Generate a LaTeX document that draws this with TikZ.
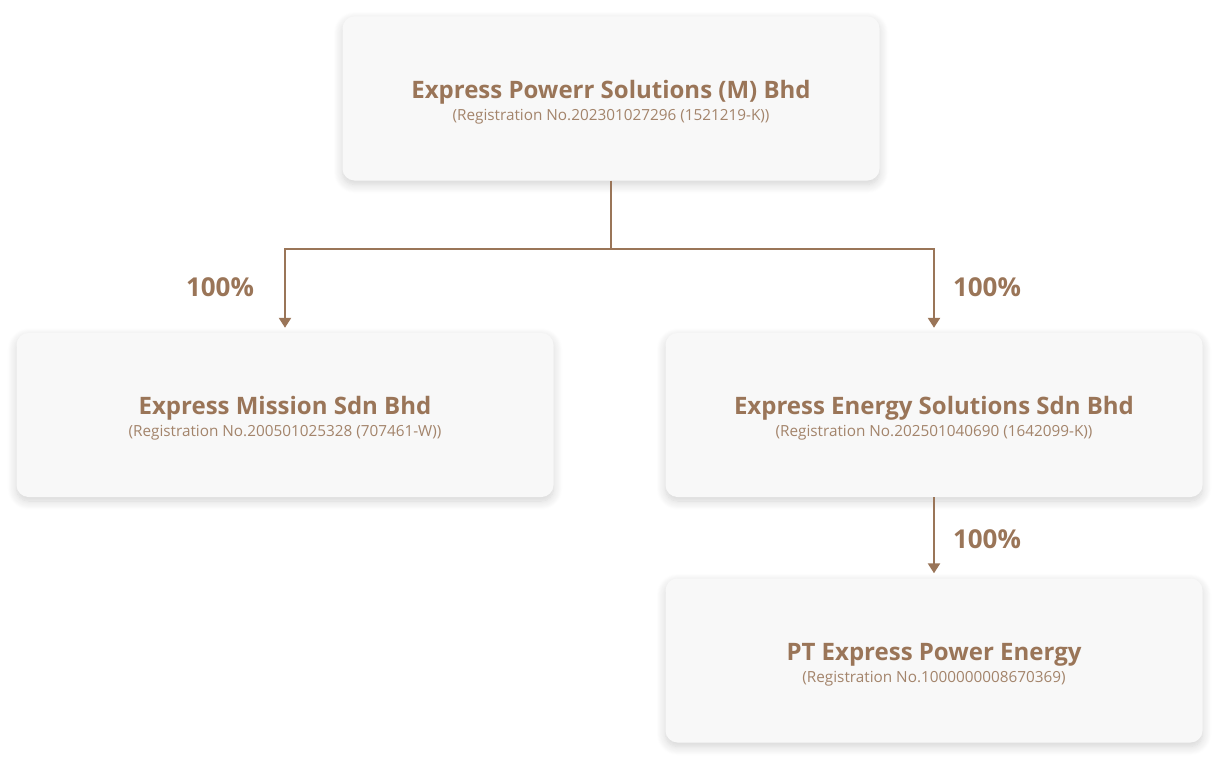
\documentclass[tikz,border=0pt]{standalone}
\usepackage{fontspec}
\setmainfont{Open Sans}
\usetikzlibrary{arrows.meta,shadows.blur}
\definecolor{brown1}{HTML}{9A7558}
\definecolor{brown2}{HTML}{A3846B}
\definecolor{boxfill}{HTML}{F8F8F8}
\tikzset{
  orgbox/.style={fill=boxfill, rounded corners=12pt, minimum width=537pt, minimum height=164pt,
    align=center, inner sep=0pt, text=brown1,
    blur shadow={shadow xshift=0pt, shadow yshift=-4pt, shadow blur radius=9pt, shadow blur steps=12, shadow opacity=18}},
  link/.style={draw=brown1, line width=2.4pt},
  arr/.style={link, -{Triangle[width=12pt,length=10pt]}, shorten >=5pt},
  pct/.style={text=brown1, font=\fontsize{26}{30}\selectfont\bfseries, inner sep=0pt}
}
\newcommand{\ttl}[1]{{\fontsize{24}{28}\selectfont\bfseries\rule{0pt}{25pt}#1}}
\newcommand{\reg}[1]{{\fontsize{15.3}{18}\selectfont\color{brown2} #1}}
\begin{document}
\begin{tikzpicture}[x=1pt,y=-1pt]
\useasboundingbox (0,0) rectangle (1227,768);
\node[orgbox] (top) at (611,98.5) {\ttl{Express Powerr Solutions (M) Bhd}\\[4pt]\reg{(Registration No.202301027296 (1521219-K))}};
\node[orgbox] (left) at (285,415) {\ttl{Express Mission Sdn Bhd}\\[4pt]\reg{(Registration No.200501025328 (707461-W))}};
\node[orgbox] (right) at (934,415) {\ttl{Express Energy Solutions Sdn Bhd}\\[4pt]\reg{(Registration No.202501040690 (1642099-K))}};
\node[orgbox] (bot) at (934,660.5) {\ttl{PT Express Power Energy}\\[4pt]\reg{(Registration No.1000000008670369)}};
\coordinate (j) at (611,249);
\draw[link] (top.south) -- (j);
\draw[arr] (j) -| (left.north);
\draw[arr] (j) -| (right.north);
\draw[arr] (right.south) -- (bot.north);
\node[pct] (p1) at (220,287) {100\%};
\node[pct] (p2) at (987,287) {100\%};
\node[pct] (p3) at (987,539) {100\%};
\end{tikzpicture}
\end{document}
